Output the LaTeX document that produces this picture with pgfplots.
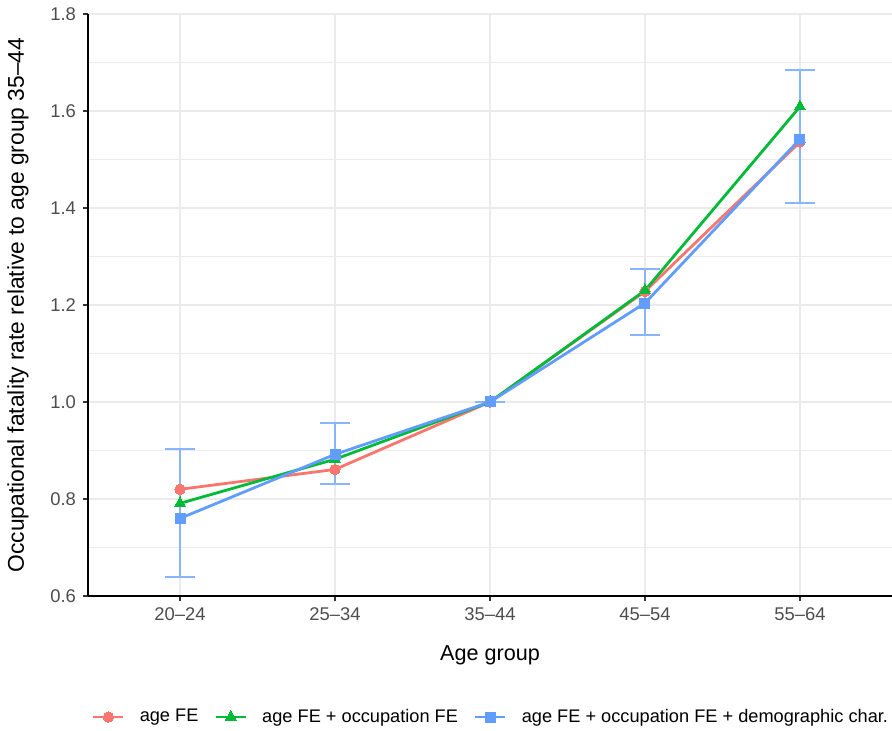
\documentclass[border=0pt]{standalone}
\usepackage{fontspec}
\setmainfont{Liberation Sans}
\usepackage{pgfplots}
\pgfplotsset{compat=1.18}
\definecolor{cR}{HTML}{F8766D}
\definecolor{cG}{HTML}{00BA38}
\definecolor{cB}{HTML}{619CFF}
\definecolor{gridc}{HTML}{EBEBEB}
\definecolor{tickc}{HTML}{4D4D4D}
\definecolor{tickm}{HTML}{333333}
\begin{document}
\begin{tikzpicture}
\begin{axis}[
  at={(0pt,0pt)}, anchor=south west,
  scale only axis, width=402pt, height=291pt,
  xmin=-0.594, xmax=4.594, ymin=0.6, ymax=1.8,
  xtick={0,1,2,3,4},
  xticklabels={20--24,25--34,35--44,45--54,55--64},
  ytick={0.6,0.8,1.0,1.2,1.4,1.6,1.8},
  minor ytick={0.7,0.9,1.1,1.3,1.5,1.7},
  yticklabel style={/pgf/number format/.cd, fixed, fixed zerofill, precision=1, assume math mode=true},
  grid=both,
  major grid style={gridc, line width=0.6pt},
  minor grid style={gridc, line width=0.6pt},
  axis lines=left,
  axis line style={-, black, line width=0.8pt},
  tick align=outside, tick pos=left,
  major tick length=2.5pt, minor tick length=0pt,
  tick style={tickm, line width=0.6pt},
  ticklabel style={font=\fontsize{9.2}{11}\selectfont, text=tickc},
  xlabel={Age group},
  ylabel={Occupational fatality rate relative to age group 35--44},
  every axis x label/.style={at={(axis description cs:0.5,0)}, yshift=-29.5pt, anchor=center, font=\fontsize{10.8}{13}\selectfont, text=black},
  every axis y label/.style={at={(axis description cs:0,0.5)}, xshift=-35pt, rotate=90, anchor=center, font=\fontsize{11.4}{13}\selectfont, text=black},
  legend style={at={(axis description cs:0.5,-0.208)}, anchor=center, draw=none, fill=none,
    font=\fontsize{9.1}{11}\selectfont, legend columns=3,
    nodes={inner sep=0pt},
    /tikz/every odd column/.append style={column sep=7.5pt},
    /tikz/every even column/.append style={column sep=8pt}},
  legend image code/.code={\draw[mark repeat=2,mark phase=2,#1] plot coordinates {(0pt,0pt)(7.5pt,0pt)(15pt,0pt)};},
  legend cell align=left,
]
% error bars
\addplot[forget plot, only marks, mark=none,
  error bars/.cd, y dir=both, y explicit,
  error bar style={draw=cB!75!white, line width=1pt},
  error mark options={draw=cB!75!white, line width=1pt, mark size=7.7pt, rotate=90}]
  coordinates {
  (0,0.760) += (0,0.143) -= (0,0.120)
  (1,0.892) += (0,0.065) -= (0,0.061)
  (2,1.000) += (0,0.000) -= (0,0.000)
  (3,1.204) += (0,0.070) -= (0,0.066)
  (4,1.542) += (0,0.143) -= (0,0.132)
  };
\addplot[cR, line width=1.4pt, mark=*, mark size=2.6pt, mark options={solid, fill=cR, draw=cR, line width=0pt}]
  coordinates {(0,0.820) (1,0.861) (2,1.000) (3,1.228) (4,1.536)};
\addlegendentry{age FE}
\addplot[cG, line width=1.4pt, mark=triangle*, mark size=3.3pt, mark options={solid, fill=cG, draw=cG, line width=0pt}]
  coordinates {(0,0.791) (1,0.882) (2,1.000) (3,1.230) (4,1.609)};
\addlegendentry{age FE + occupation FE}
\addplot[cB, line width=1.4pt, mark=square*, mark size=2.5pt, mark options={solid, fill=cB, draw=cB, line width=0pt}]
  coordinates {(0,0.760) (1,0.892) (2,1.000) (3,1.204) (4,1.542)};
\addlegendentry{age FE + occupation FE + demographic char.}
\end{axis}
\pgfresetboundingbox
\path[use as bounding box] (-44pt,-67.5pt) rectangle (402pt,298pt);
\end{tikzpicture}
\end{document}
